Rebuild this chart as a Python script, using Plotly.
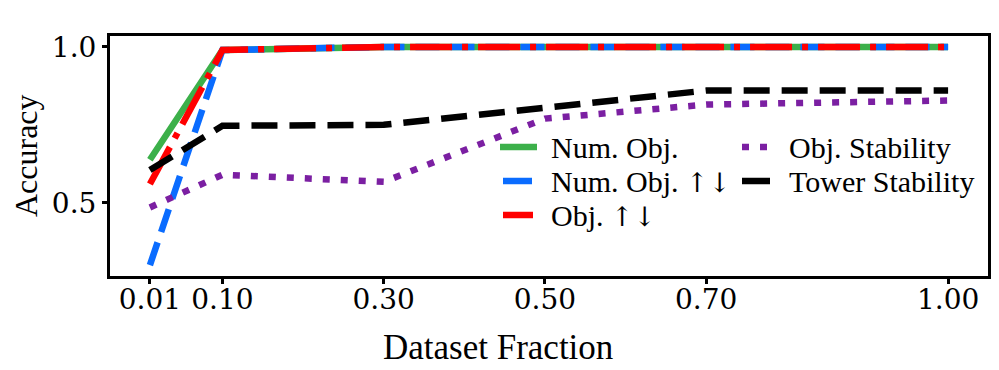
import plotly.graph_objects as go

# dataset fractions on the x axis
fractions = [0.01, 0.10, 0.30, 0.50, 0.70, 1.00]
tick_labels = ["0.01", "0.10", "0.30", "0.50", "0.70", "1.00"]

num_obj = [0.638, 0.99, 1.0, 1.0, 1.0, 1.0]
num_obj_updown = [0.30, 0.99, 1.0, 1.0, 1.0, 1.0]
obj_updown = [0.56, 0.99, 1.0, 1.0, 1.0, 1.0]
obj_stability = [0.485, 0.59, 0.567, 0.77, 0.815, 0.828]
tower_stability = [0.605, 0.747, 0.75, 0.807, 0.86, 0.86]

ARROWS = "<span style='font-family:DejaVu Serif;font-size:27px'>↑↓</span>"

W = 6.5
series = [
    ("Num. Obj.", num_obj, "#3cb04a", "solid"),
    ("Num. Obj. ↑↓", num_obj_updown, "#0a6cff", "24px,11px"),
    ("Obj. ↑↓", obj_updown, "#ff0000", "42px,10px,6px,10px"),
    ("Obj. Stability", obj_stability, "#7b1fa2", "7px,11px"),
    ("Tower Stability", tower_stability, "#000000", "26px,12px"),
]

# the page body has an 8px margin, so the figure is a bit smaller than the window
OFF = 8
FW, FH = 999 - OFF, 370 - OFF
# plot area (window pixels): left 110, right 988, top 36, bottom 276
L, R, T, B = 110 - OFF, FW - (988 - OFF), 36 - OFF, FH - (276 - OFF)
PW, PH = FW - L - R, FH - T - B


def px2x(px):
    return (px - OFF - L) / PW


def px2y(py):
    return (FH - B - (py - OFF)) / PH


fig = go.Figure()
for name, vals, col, dash in series:
    fig.add_trace(go.Scatter(
        x=fractions, y=vals, mode="lines", name=name,
        line=dict(color=col, width=W, dash=dash),
        showlegend=False,
    ))

axis_common = dict(
    showline=True, linecolor="black", linewidth=3, mirror=True,
    ticks="outside", ticklen=5, tickwidth=3, tickcolor="black",
    showgrid=False, zeroline=False, automargin=False,
    tickfont=dict(family="DejaVu Serif", size=28, color="black"),
)

fig.update_xaxes(range=[-0.0395, 1.0495], tickvals=fractions, ticktext=tick_labels,
                 ticklabelstandoff=-9, **axis_common)
fig.update_yaxes(range=[0.265, 1.035], tickvals=[0.5, 1.0], ticktext=["0.5", "1.0"], **axis_common)

# hand-made legend, two columns like the original
legend_font = dict(family="Liberation Serif", size=30, color="black")
legend_entries = [
    # name, colour, dash, symbol x0, x1, text x, row y
    ("Num. Obj.", "#3cb04a", "solid", 500, 537, 549, 147),
    ("Num. Obj. " + ARROWS, "#0a6cff", "solid", 503, 532, 549, 181),
    ("Obj. " + ARROWS, "#ff0000", "solid", 503, 533, 549, 215),
    ("Obj. Stability", "#7b1fa2", "7px,11px", 742, 768, 787, 147),
    ("Tower Stability", "#000000", "solid", 742, 770, 787, 181),
]
shapes = []
annotations = []
for name, col, dash, x0, x1, tx, ry in legend_entries:
    shapes.append(dict(type="line", xref="paper", yref="paper",
                       x0=px2x(x0), x1=px2x(x1), y0=px2y(ry), y1=px2y(ry),
                       line=dict(color=col, width=W, dash=dash)))
    annotations.append(dict(text=name, xref="paper", yref="paper",
                            x=px2x(tx), y=px2y(ry), xanchor="left", yanchor="middle",
                            showarrow=False, font=legend_font))

annotations.append(dict(text="Dataset Fraction", xref="paper", yref="paper",
                        x=px2x(498), y=px2y(369), xanchor="center", yanchor="bottom",
                        showarrow=False,
                        font=dict(family="Liberation Serif", size=35, color="black")))
annotations.append(dict(text="Accuracy", xref="paper", yref="paper",
                        x=px2x(26), y=px2y(156), xanchor="center", yanchor="middle",
                        textangle=-90, showarrow=False,
                        font=dict(family="Liberation Serif", size=32, color="black")))

fig.update_layout(
    width=FW, height=FH,
    margin=dict(l=L, r=R, t=T, b=B),
    plot_bgcolor="white", paper_bgcolor="white",
    shapes=shapes,
    annotations=annotations,
)

fig.write_html("out.html")
